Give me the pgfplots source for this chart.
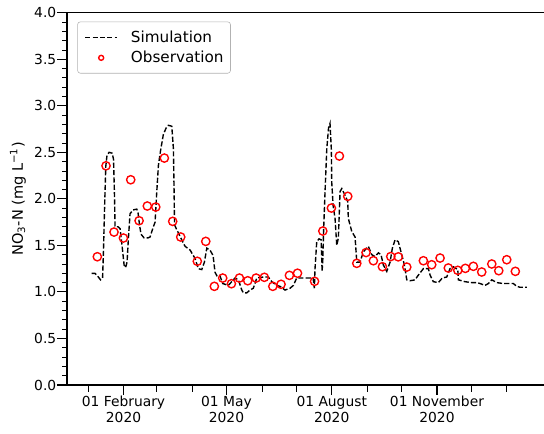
\documentclass[border=0pt]{standalone}
\usepackage{fontspec}
\setmainfont{DejaVu Sans}
\usepackage{pgfplots}
\pgfplotsset{compat=1.18}
\pgfplotsset{obslegend/.style={legend image code/.code={\path[draw=none,fill=none] (0in,0in) -- (0.32in,0in); \draw[##1, mark size=1.8pt] plot coordinates {(0.16in,0in)};}}}
\begin{document}
\begin{tikzpicture}
\useasboundingbox (-0.67in,-0.49in) rectangle (4.77in,3.85in);
\begin{axis}[
  at={(0,0)}, anchor=south west,
  scale only axis, width=4.79in, height=3.723in,
  xmin=-18.4, xmax=400.3, ymin=0, ymax=4,
  axis line style={line width=0.8pt},
  xtick pos=bottom, ytick pos=left,
  tick align=outside,
  xtick={31,121,213,305},
  xticklabels={01 February\\2020, 01 May\\2020, 01 August\\2020, 01 November\\2020},
  xticklabel style={align=center, font=\normalsize},
  minor xtick={0,60,91,152,182,244,274,335,366},
  ytick={0,0.5,...,4.0},
  minor y tick num=4,
  yticklabel style={/pgf/number format/.cd, fixed, fixed zerofill, precision=1, assume math mode=true},
  major x tick style={line width=0.8pt, black, /pgfplots/major tick length=7.2pt},
  minor x tick style={line width=0.6pt, black, /pgfplots/minor tick length=5pt},
  major y tick style={line width=0.8pt, black, /pgfplots/major tick length=7.2pt},
  minor y tick style={line width=0.6pt, black, /pgfplots/minor tick length=3.6pt},
  ylabel={NO\textsubscript{3}-N (mg L\textsuperscript{−1})},
  ylabel style={at={(axis description cs:-0.1025,0.5)}, anchor=center, font=\fontsize{10.5}{12}\selectfont},
  legend style={at={(axis description cs:0,1)}, anchor=north west, xshift=0.103in, yshift=-0.089in,
    draw=black!30, rounded corners=2pt, font=\fontsize{11}{13}\selectfont,
    inner xsep=5pt, inner ysep=6.2pt, row sep=5pt, column sep=0.13in,
    nodes={inner sep=0pt}},
  legend cell align=left,
  legend image code/.code={\draw[mark repeat=2,mark phase=2,#1] plot coordinates {(0in,0in) (0.16in,0in) (0.32in,0in)};},
]
\addplot[black, line width=1pt, dash pattern=on 3.7pt off 1.6pt, mark=none] coordinates {
(3.2,1.20)(6.1,1.20)(9.0,1.16)(10.9,1.13)(12.7,1.15)(13.5,1.45)(14.4,1.88)(15.5,2.35)(16.6,2.47)(18.4,2.50)(21.2,2.49)(22.3,2.42)(23.2,1.99)(23.6,1.70)(26.2,1.70)(28.0,1.68)(29.7,1.50)(31.5,1.29)(32.8,1.26)(34.1,1.32)(35.2,1.56)(36.7,1.84)(39.3,1.88)(42.6,1.89)(43.7,1.85)(45.0,1.72)(46.3,1.62)(49.0,1.58)(52.4,1.58)(54.2,1.59)(56.8,1.69)(58.6,1.75)(59.9,2.04)(61.5,2.36)(63.4,2.52)(65.8,2.69)(68.2,2.76)(70.2,2.79)(73.2,2.78)(74.6,2.54)(75.2,2.09)(75.6,1.72)(77.5,1.67)(81.9,1.56)(84.8,1.49)(89.2,1.45)(93.5,1.36)(96.4,1.25)(99.4,1.24)(101.7,1.32)(103.8,1.47)(106.6,1.45)(109.3,1.39)(111.0,1.21)(112.8,1.17)(115.4,1.17)(117.7,1.09)(122.6,1.07)(125.6,1.11)(128.5,1.15)(131.4,1.13)(134.4,1.02)(135.8,0.99)(138.7,0.99)(141.6,1.02)(144.5,1.04)(147.5,1.15)(153.2,1.16)(157.6,1.16)(160.6,1.11)(164.9,1.07)(167.8,1.06)(172.2,1.02)(176.6,1.04)(179.5,1.07)(182.4,1.15)(185.3,1.15)(189.7,1.15)(196.7,1.15)(197.8,1.04)(198.4,1.25)(199.9,1.54)(201.9,1.57)(203.7,1.56)(204.6,1.22)(205.2,1.35)(205.9,1.66)(207.2,2.09)(208.7,2.54)(210.2,2.76)(211.5,2.81)(212.7,2.52)(213.0,2.18)(214.2,1.93)(215.9,1.79)(217.4,1.50)(218.8,1.58)(220.3,2.08)(221.8,2.11)(224.6,2.04)(227.0,1.97)(227.5,1.79)(230.5,1.65)(233.4,1.59)(234.9,1.32)(237.8,1.32)(240.6,1.43)(245.0,1.49)(248.0,1.40)(250.9,1.38)(253.8,1.42)(256.1,1.40)(258.1,1.29)(261.1,1.22)(264.0,1.32)(266.0,1.47)(268.4,1.56)(271.2,1.54)(274.2,1.40)(276.5,1.29)(278.6,1.13)(281.5,1.12)(285.8,1.13)(288.7,1.18)(293.1,1.25)(297.5,1.25)(299.0,1.18)(301.8,1.11)(306.2,1.10)(309.7,1.15)(313.5,1.16)(316.4,1.25)(319.3,1.27)(323.2,1.24)(323.7,1.13)(329.5,1.11)(335.4,1.10)(339.8,1.10)(342.7,1.09)(347.0,1.07)(349.9,1.09)(352.9,1.13)(357.3,1.10)(363.0,1.09)(367.4,1.09)(371.8,1.09)(374.7,1.06)(377.6,1.05)(383.5,1.05)
};
\addlegendentry{Simulation}
\addplot[only marks, mark=o, mark size=3pt, red, mark options={line width=1pt, fill=none}, obslegend] coordinates {
(8.1,1.378)(15.7,2.355)(22.7,1.643)(30.9,1.579)(37.3,2.205)(44.6,1.765)(51.8,1.923)(59.2,1.912)(66.7,2.438)(74.0,1.758)(81.0,1.590)(95.5,1.329)(102.9,1.543)(110.4,1.060)(117.7,1.149)(125.3,1.088)(132.3,1.149)(139.6,1.120)(146.9,1.149)(154.1,1.157)(161.5,1.060)(168.7,1.082)(176.0,1.178)(183.1,1.201)(198.0,1.114)(205.2,1.654)(212.7,1.901)(219.7,2.460)(227.0,2.027)(234.9,1.307)(243.0,1.423)(249.4,1.335)(257.3,1.271)(264.6,1.380)(271.2,1.377)(278.6,1.267)(293.1,1.335)(300.4,1.292)(307.7,1.364)(314.9,1.257)(323.2,1.232)(329.8,1.253)(336.8,1.275)(344.1,1.214)(352.9,1.300)(359.0,1.228)(366.0,1.346)(373.5,1.221)
};
\addlegendentry{Observation}
\end{axis}
\end{tikzpicture}
\end{document}
